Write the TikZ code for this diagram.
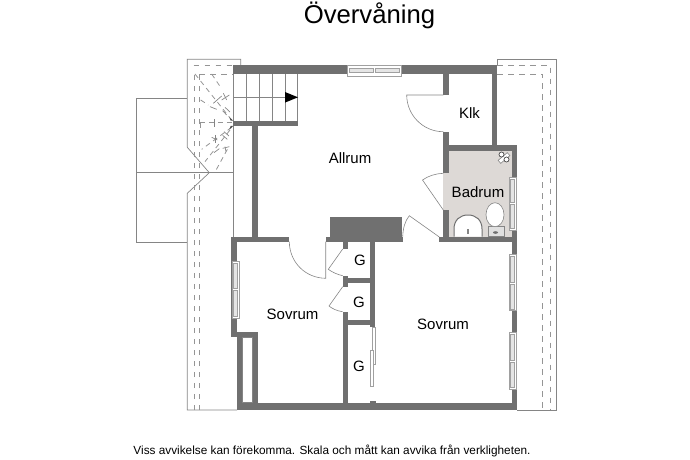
\documentclass[tikz,border=0pt]{standalone}
\usepackage{fontspec}
\setmainfont{Liberation Sans}
\definecolor{wallc}{HTML}{707070}
\definecolor{linec}{HTML}{858585}
\definecolor{floorc}{HTML}{DDD9D6}
\definecolor{dashc}{HTML}{959595}
\definecolor{winc}{HTML}{A0A0A0}
\tikzset{
  wall/.style={fill=wallc,draw=none},
  thin line/.style={draw=linec,line width=0.7pt},
  roofdash/.style={draw=dashc,line width=0.8pt,dash pattern=on 5.5pt off 5.5pt},
  hipdash/.style={draw=dashc,line width=0.8pt,dash pattern=on 5pt off 4pt},
  hiptick/.style={draw=linec,line width=0.7pt},
  door/.style={draw=linec,line width=0.6pt},
  win/.style={fill=white,draw=winc,line width=0.6pt},
  winpane/.style={fill=white!90!black,draw=winc,line width=0.5pt},
  label/.style={font=\fontsize{15}{15}\selectfont,text=black,inner sep=0pt}
}
\begin{document}
\begin{tikzpicture}[x=1pt,y=-1pt]
\useasboundingbox (0,0) rectangle (690,460);
% roof outlines
\draw[thin line] (136,98.3) -- (187.3,98.3);
\draw[thin line] (136,98.3) -- (136,242.3) -- (187.3,242.3);
\draw[thin line] (136,172.7) -- (233.3,172.7);
\draw[thin line] (240.7,65) -- (240.7,59.3) -- (187.3,59.3) -- (187.3,147.3) -- (209.3,172.7) -- (187.3,193.3) -- (187.3,410) -- (237,410);
\draw[thin line] (233.3,74) -- (233.3,237);
\draw[thin line] (497,65) -- (497,59.3) -- (556,59.3) -- (556,410) -- (517,410);
% roof dashes
\draw[roofdash] (193.5,65.7) -- (233,65.7);
\draw[roofdash] (194,410) -- (194,74) -- (233,74);
\draw[roofdash] (199.3,410) -- (199.3,74);
\draw[roofdash] (497,65.7) -- (550,65.7) -- (550,410);
\draw[roofdash] (497,74) -- (542.7,74) -- (542.7,410);
% hip dashes, with coordinates as read from the 3x crop
\begin{scope}[shift={(130,50)},x=0.3333pt,y=-0.3333pt]
\draw[hipdash] (195,72) -- (305,210);
\draw[hipdash] (245,72) -- (272,112);
\draw[hipdash] (210,218) -- (305,218);
\draw[hipdash] (210,218) -- (210,236);
\draw[hipdash] (305,232) -- (215,298);
\draw[hipdash] (300,240) -- (225,335);
\draw[hipdash] (292,298) -- (254,368);
\draw[hipdash] (212,150) -- (235,165);
\draw[hiptick] (250,160) -- (275,138);
\draw[hiptick] (280,130) -- (290,150);
\draw[hiptick] (275,150) -- (298,135);
\draw[hiptick] (240,170) -- (260,178);
\draw[hiptick] (252,208) -- (252,230);
\draw[hiptick] (245,262) -- (262,270);
\draw[hiptick] (255,255) -- (255,278);
\draw[hiptick] (278,295) -- (298,290);
\draw[hiptick] (285,290) -- (288,305);
\draw[hiptick] (285,172) -- (300,186);
\draw[hiptick] (278,182) -- (290,195);
\draw[hiptick] (282,245) -- (297,258);
\draw[hiptick] (278,256) -- (292,268);
\draw[hiptick] (252,308) -- (268,296);
\fill[black!70] (298,202) -- (310,212) -- (302,212) -- cycle;
\fill[black!70] (298,238) -- (310,228) -- (302,228) -- cycle;
\end{scope}
% floor of bathroom
\fill[floorc] (443.3,150.7) rectangle (511.7,236.7);
% stairs
\foreach \sx in {246.7,259.3,272.7,285.7,297.7}
  \draw[thin line] (\sx,74) -- (\sx,120.7);
\draw[thin line] (233.3,97.3) -- (297.7,97.3);
\fill[black] (285,92) -- (298,97.3) -- (285,102.6) -- cycle;
% walls
\fill[wall] (233,65.3) rectangle (497.3,74);
\fill[wall] (233,120.7) rectangle (298,126);
\fill[wall] (252,126) rectangle (257.7,237);
\fill[wall] (231,236.7) rectangle (289.3,241.7);
\fill[wall] (231,236.7) rectangle (236.7,336.7);
\fill[wall] (231,332) rectangle (257.7,337);
\fill[wall] (252,332) rectangle (257.7,405);
\fill[wall] (236.7,337) rectangle (242,405);
\fill[wall] (236.7,402.7) rectangle (516.7,410);
\fill[wall] (511.7,145.3) rectangle (516.7,410);
\fill[wall] (342.7,311.7) rectangle (347.7,403);
\fill[wall] (342.7,275.7) rectangle (347.7,286.7);
\fill[wall] (342.7,241.7) rectangle (347.7,249);
\fill[wall] (370.3,241.7) rectangle (375,326.7);
\fill[wall] (347,278.3) rectangle (371,283.3);
\fill[wall] (347,320) rectangle (375,325);
\fill[wall] (330,217.3) rectangle (401.7,237);
\fill[wall] (325.7,236.7) rectangle (402.7,241.7);
\fill[wall] (439.3,236.7) rectangle (516.7,241.7);
\fill[wall] (443.3,74) rectangle (448.7,95);
\fill[wall] (443.3,131.7) rectangle (448.7,173.3);
\fill[wall] (443.3,210) rectangle (448.7,237);
\fill[wall] (443.3,145.3) rectangle (516.7,150.7);
\fill[wall] (492.3,65.3) rectangle (497.3,146);
\fill[wall] (370,400.7) rectangle (375.6,403);
\fill[white,draw=linec,line width=0.5pt] (242.7,337.7) rectangle (252,402.7);
% windows
\draw[win] (347,65.3) rectangle (401.7,76);
\draw[winpane] (349,68) rectangle (373.5,72.5);
\draw[winpane] (375,68) rectangle (399.7,72.5);
\draw[win] (232,261) rectangle (239.5,318);
\draw[winpane] (233.5,263) rectangle (237.5,288.5);
\draw[winpane] (233.5,290.5) rectangle (237.5,316);
\draw[win] (509,177.3) rectangle (516.7,230);
\draw[winpane] (510.5,179) rectangle (514.7,202.5);
\draw[winpane] (510.5,204.5) rectangle (514.7,228);
\draw[win] (509,254.3) rectangle (516.7,310.7);
\draw[winpane] (510.5,256) rectangle (514.7,282);
\draw[winpane] (510.5,284) rectangle (514.7,309);
\draw[win] (509,332.7) rectangle (516.7,389);
\draw[winpane] (510.5,334.5) rectangle (514.7,360);
\draw[winpane] (510.5,362) rectangle (514.7,387.5);
% sliding doors
\draw[win] (372,327.7) rectangle (375,364);
\draw[win] (370,350) rectangle (373,386.7);
% doors
\draw[door] (443.3,95) -- (406.7,95) .. controls (406.7,115) and (423,131.7) .. (443.3,131.7);
\draw[door] (443.3,210) -- (422.5,180) .. controls (428,176) and (436,173.5) .. (443.3,173.3);
\draw[door] (439.3,237) -- (409.3,215.7) .. controls (405,221) and (403,228) .. (402.7,236.7);
\draw[door] (325.7,241.7) -- (325.7,278.3) .. controls (305,278) and (289.5,262) .. (289.3,241.7);
\draw[door] (342.7,249) -- (328.3,269.3) .. controls (332,272) and (337,274.5) .. (342.7,275.7);
\draw[door] (342.7,286.7) -- (329,306) .. controls (332,308.5) and (337,311) .. (342.7,311.7);
% bathroom fixtures
\draw[door,fill=white!88!black] (488,226.7) rectangle (504,236);
\draw[door,fill=white] (495,214.7) ellipse[x radius=9,y radius=12];
\draw[draw=wallc,line width=1pt,fill=white] (454,236.7) -- (454,229) .. controls (454,220) and (460,215) .. (468,215) .. controls (476,215) and (482,220) .. (482,229) -- (482,236.7);
\fill[linec] (466.8,228.5) rectangle (468.8,234);
\fill[wallc] (495.5,232.5) ellipse[x radius=2.5,y radius=1.3];
\draw[door,fill=white,rotate around={40:(504,158)}] (498,156) rectangle (510,160);
\draw[draw=black!70,line width=0.7pt,fill=white] (501.5,154.5) circle (2.5);
\draw[draw=black!70,line width=0.7pt,fill=white] (506.5,159.5) circle (2.5);
% labels
\node[inner sep=0pt,font=\fontsize{25.7}{26}\selectfont] (title) at (369.5,15) {Övervåning};
\node[label] (n1) at (350,158) {Allrum};
\node[label] (n2) at (469.5,113) {Klk};
\node[label] (n3) at (478,192) {Badrum};
\node[label] (n4) at (292.5,314) {Sovrum};
\node[label] (n5) at (443,324.5) {Sovrum};
\node[label] (n6) at (360,260) {G};
\node[label] (n7) at (359,302) {G};
\node[label] (n8) at (359,366.5) {G};
\node[inner sep=0pt,font=\fontsize{11.8}{12}\selectfont] (foot) at (332,451) {Viss avvikelse kan förekomma. Skala och mått kan avvika från verkligheten.};
\end{tikzpicture}
\end{document}
